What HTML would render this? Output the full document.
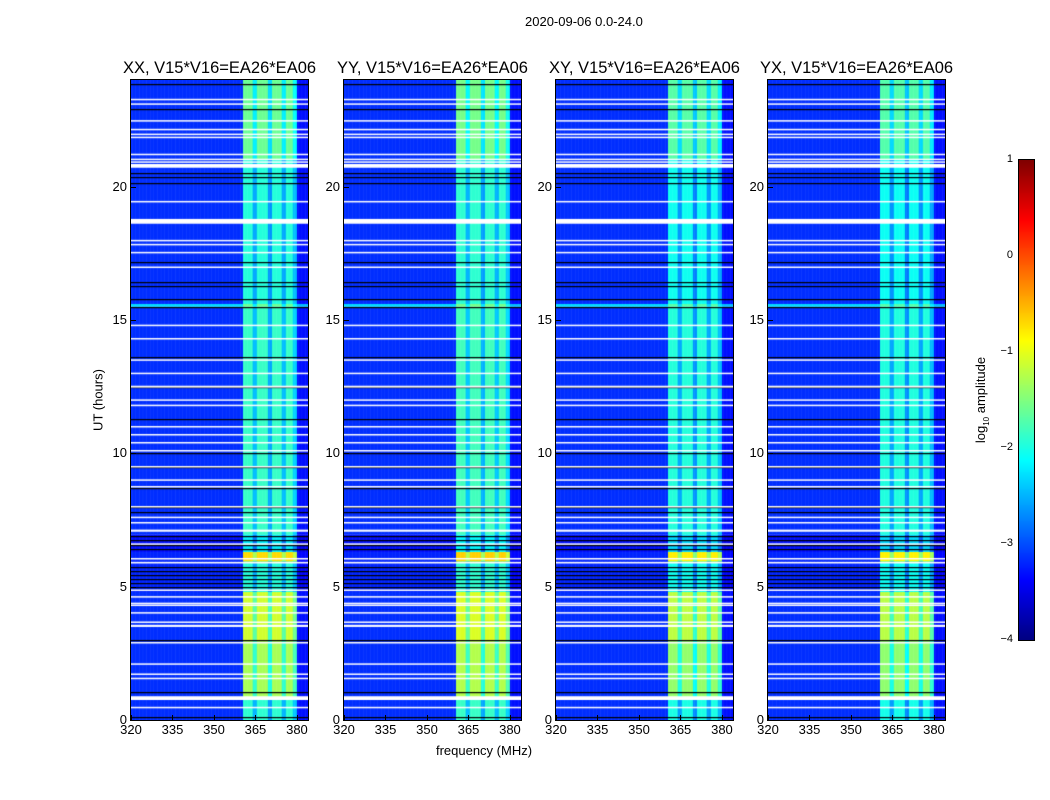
<!DOCTYPE html>
<html><head><meta charset="utf-8"><style>
body{margin:0;background:#fff;font-family:"Liberation Sans","DejaVu Sans",sans-serif;}
#root{position:relative;width:1050px;height:800px;overflow:hidden;background:#fff}
.t{position:absolute;font-size:13px;color:#000;white-space:nowrap}
canvas{position:absolute}
</style></head><body>
<div id="root">
<div class="t" style="left:525px;top:14px">2020-09-06 0.0-24.0</div>
</div>
<script>
// ---- data ----
const panelTitles=["XX, V15*V16=EA26*EA06","YY, V15*V16=EA26*EA06","XY, V15*V16=EA26*EA06","YX, V15*V16=EA26*EA06"];
const panelLefts=[131,344,556,768];
const panelOffset=[0,0.05,-0.1,-0.12];
const xTicks=[320,335,350,365,380];
const yTicks=[0,5,10,15,20];
const cbTicks=[1,0,-1,-2,-3,-4];
const bandStart=360.5, bandEnd=380;
const stripeFreqs=[365,370.5,375.5,379.5];
const stripeDepth=[-0.6,-0.7,-0.6,-0.5];
// time segments: [start,end,bandLevel,bgLevel]
const segStart=[0,0.87,3.0,4.8,5.95,6.3,6.95,15.5,15.6,21.0];
const segEnd=[0.77,3.0,4.8,5.95,6.3,6.95,15.5,15.6,21.0,24];
const segBand=[-1.9,-1.3,-1.1,-1.95,-0.7,-2.2,-1.85,-1.6,-1.95,-1.6];
const segBg=[-3.15,-3.15,-3.15,-3.2,-3.2,-3.3,-3.15,-2.3,-3.15,-3.15];
const gapHours=[0.47,0.82,1.56,1.72,2.1,2.9,3.53,3.67,4.02,4.31,4.38,4.62,4.87,5.9,6.05,6.6,7.1,7.4,7.6,8.0,8.75,9.0,9.5,10.1,10.4,10.7,11.0,11.8,12.0,12.5,13.0,13.5,14.3,14.8,16.98,17.53,17.83,17.98,18.7,19.44,20.78,20.93,21.03,21.21,21.85,21.97,22.15,22.47,23.1,23.27];
const gapWidth=[0.05,0.14,0.05,0.05,0.05,0.05,0.08,0.05,0.05,0.04,0.04,0.05,0.05,0.05,0.05,0.05,0.08,0.05,0.05,0.05,0.05,0.05,0.05,0.05,0.05,0.05,0.05,0.05,0.05,0.07,0.05,0.05,0.05,0.05,0.05,0.05,0.05,0.05,0.18,0.05,0.14,0.04,0.04,0.05,0.05,0.04,0.04,0.05,0.05,0.05];
const blackHours=[0.12,1.06,3.0,5.0,5.15,5.3,5.45,5.6,5.75,6.4,6.55,6.75,6.9,7.8,8.0,8.7,9.5,10.0,11.3,12.5,13.6,15.5,15.8,16.28,16.43,17.16,20.12,20.35,20.5,22.9,23.85];
const W=177,H=640,TOP=80,F0=320,F1=384,T1=24;
function jet(v){let t=Math.max(0,Math.min(1,(v+4)/5));
 const r=Math.max(0,Math.min(1,Math.min(4*t-1.5,-4*t+4.5)));
 const g=Math.max(0,Math.min(1,Math.min(4*t-0.5,-4*t+3.5)));
 const b=Math.max(0,Math.min(1,Math.min(4*t+0.5,-4*t+2.5)));
 return `rgb(${Math.round(r*255)},${Math.round(g*255)},${Math.round(b*255)})`;}
const root=document.getElementById('root');
function txt(s,x,y,size,anchor,name){const d=document.createElement('div');d.className='t';d.textContent=s;d.style.fontSize=size+'px';d.style.top=y+'px';d.style.left=x+'px';
 if(anchor==='c')d.style.transform='translateX(-50%)';if(anchor==='r')d.style.transform='translateX(-100%)';
 
 
 root.appendChild(d);return d;}
function colAdj(f){let a=0;if(f<bandStart||f>=bandEnd)return null;
 stripeFreqs.forEach((s,i)=>{if(Math.abs(f+0.5-s)<0.9)a+=stripeDepth[i];});return a;}
panelLefts.forEach((L,p)=>{
 const xs=f=>(f-F0)/(F1-F0)*W, ys=h=>H-(h/T1)*H;
 const cv=document.createElement('canvas');cv.width=W;cv.height=H;cv.style.left=L+'px';cv.style.top=TOP+'px';
 
 
 root.appendChild(cv);const c=cv.getContext('2d');
 c.fillStyle='#fff';c.fillRect(0,0,W,H);
 segStart.forEach((s0,i)=>{const y0=ys(segEnd[i]),y1=ys(s0);
  for(let f=F0;f<F1;f+=0.5){const a=colAdj(f);let v=(a===null)?segBg[i]+(f>=bandEnd?-0.15:0):segBand[i]+a+panelOffset[p];
   c.fillStyle=jet(v);c.fillRect(xs(f),y0,xs(f+0.5)-xs(f)+0.5,y1-y0);}});
 c.fillStyle='#000';blackHours.forEach(h=>c.fillRect(0,Math.round(ys(h)),W,1.2));
 c.fillStyle='#fff';gapHours.forEach((h,i)=>{const y0=ys(h+gapWidth[i]/2),y1=ys(h-gapWidth[i]/2);c.fillRect(0,y0,W,Math.max(1.5,y1-y0));});
 const fr=document.createElement('div');fr.style.cssText=`position:absolute;left:${L-1}px;top:${TOP-1}px;width:${W}px;height:${H}px;border:1px solid #000`;
 
 
 root.appendChild(fr);
 xTicks.forEach(f=>{const x=L+xs(f);txt(String(f),x,722,13,'c','x-tick-label');
  const tk=document.createElement('div');tk.style.cssText=`position:absolute;left:${x}px;top:${TOP+H-5}px;width:1px;height:5px;background:#000`;
  
  
  root.appendChild(tk);});
 yTicks.forEach(h=>{const y=TOP+ys(h);txt(String(h),L-4,y-8,13,'r','y-tick-label');
  const tk=document.createElement('div');tk.style.cssText=`position:absolute;left:${L}px;top:${y}px;width:5px;height:1px;background:#000`;
  
  
  root.appendChild(tk);});
 txt(panelTitles[p],L+W/2,59,16.5,'c','panel-title');
});
const yl=txt('UT (hours)',98,400,13,'c','y-axis-title');yl.style.transform='translate(-50%,-50%) rotate(-90deg)';
txt('frequency (MHz)',484,743,13,'c','x-axis-title');
const cb=document.createElement('canvas');cb.width=15;cb.height=480;cb.style.left='1019px';cb.style.top='160px';


root.appendChild(cb);const cc=cb.getContext('2d');
for(let i=0;i<480;i++){cc.fillStyle=jet(1-5*i/480);cc.fillRect(0,i,15,1);}
const cf=document.createElement('div');cf.style.cssText='position:absolute;left:1018px;top:159px;width:15px;height:480px;border:1px solid #000';


root.appendChild(cf);
cbTicks.forEach(v=>{const y=160+(1-v)/5*480;txt(v<0?'\u2212'+(-v):String(v),1013,y-7,11,'r','colorbar-tick-label');});
const cl=document.createElement('div');cl.className='t';cl.innerHTML='log<sub style="font-size:8px">10</sub> amplitude';
cl.style.cssText+='left:982px;top:400px;transform:translate(-50%,-50%) rotate(-90deg)';


root.appendChild(cl);
</script>
</body></html>
